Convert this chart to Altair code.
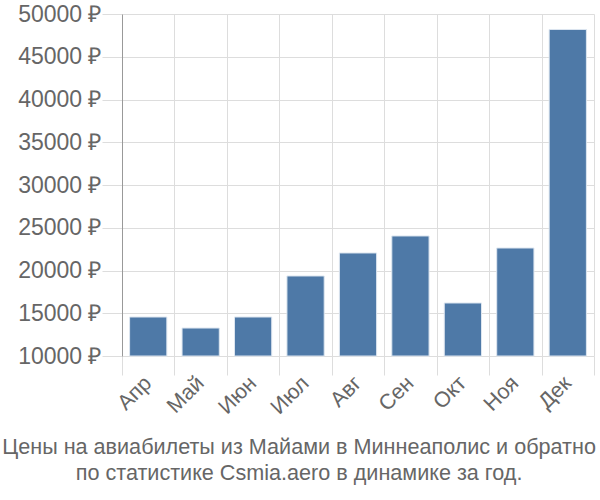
import altair as alt
import pandas as pd

months = ["Апр", "Май", "Июн", "Июл", "Авг", "Сен", "Окт", "Ноя", "Дек"]
prices = [14560, 13270, 14560, 19360, 22050, 24040, 16200, 22630, 48190]
y_ticks = [10000, 15000, 20000, 25000, 30000, 35000, 40000, 45000, 50000]
title_lines = ["Цены на авиабилеты из Майами в Миннеаполис и обратно",
               "по статистике Csmia.aero в динамике за год."]

df = pd.DataFrame({"month": months, "price": prices})

chart = alt.Chart(df).mark_bar(
    color="#4e79a7", stroke="#dde6f0", strokeWidth=1,
    width=alt.RelativeBandSize(0.71)
).encode(
    x=alt.X("month:N", sort=months, title=None,
            scale=alt.Scale(paddingInner=0, paddingOuter=0),
            axis=alt.Axis(labelAngle=-45, labelFontSize=21.5, labelColor="#666",
                          labelFont="Liberation Sans", domain=False,
                          tickBand="extent", tickSize=19, tickColor="#ddd",
                          gridColor="#ddd", grid=True, labelPadding=-3,
                          labelOffset=-8)),
    y=alt.Y("price:Q", title=None,
            scale=alt.Scale(domain=[10000, 50000], zero=False, nice=False),
            axis=alt.Axis(values=y_ticks, labelExpr="datum.value + ' ₽'",
                          labelFontSize=23, labelColor="#666",
                          labelFont="Liberation Sans",
                          tickSize=20, tickColor="#ddd", gridColor="#ddd",
                          domainColor="#999", labelPadding=1)),
    y2=alt.Y2(datum=10000),
).properties(
    width=472, height=342,
    title=alt.TitleParams(title_lines, orient="bottom", anchor="middle",
                          frame="bounds", fontSize=21.6, fontWeight="normal",
                          color="#666", font="Liberation Sans", offset=19,
                          lineHeight=26, dx=-7),
    autosize=alt.AutoSizeParams(type="none"),
    padding={"left": 122, "top": 14, "right": 6, "bottom": 144},
).configure_view(stroke=None)

chart.save("out.html", embed_options={"renderer": "svg", "actions": False})
